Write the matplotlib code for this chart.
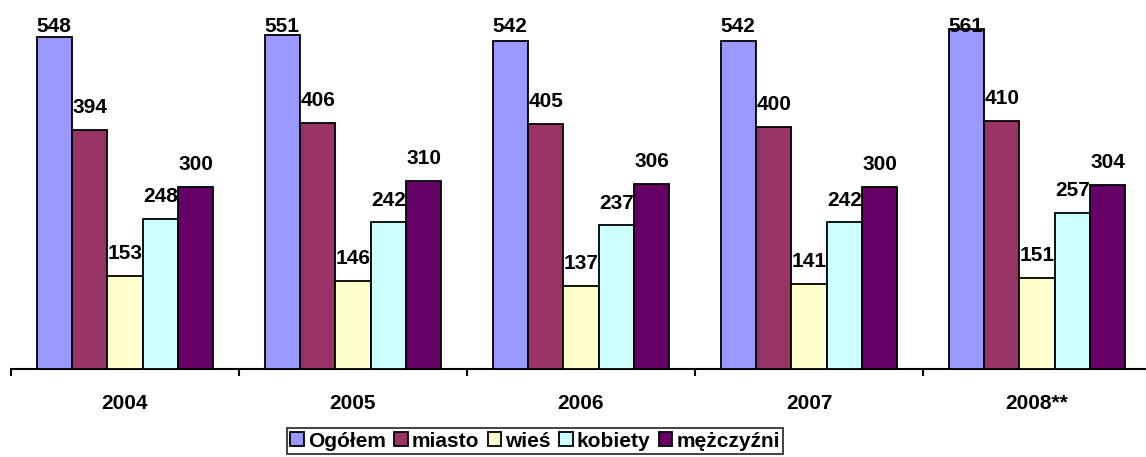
import numpy as np
import matplotlib
matplotlib.use('Agg')
import matplotlib.pyplot as plt
from matplotlib.patches import Patch

# -- data ---------------------------------------------------------------------
years = ['2004', '2005', '2006', '2007', '2008**']
series_names = ['Ogółem', 'miasto', 'wieś', 'kobiety', 'mężczyźni']
ogolem = [548, 551, 542, 542, 561]
miasto = [394, 406, 405, 400, 410]
wies = [153, 146, 137, 141, 151]
kobiety = [248, 242, 237, 242, 257]
mezczyzni = [300, 310, 306, 300, 304]
# -----------------------------------------------------------------------------

COLORS = ['#9999FF', '#993366', '#FFFFCC', '#CCFFFF', '#660066']
FONT = 'Liberation Sans'
FS = 15

plt.rcParams['font.family'] = [FONT, 'DejaVu Sans']

fig = plt.figure(figsize=(11.46, 4.57), dpi=100)
ax = fig.add_axes([11 / 1146, 88 / 457, 1140 / 1146, 363.3 / 457])

x = np.arange(len(years))
bw = 0.155
values = [ogolem, miasto, wies, kobiety, mezczyzni]

for i, (vals, col) in enumerate(zip(values, COLORS)):
    xs = x + (i - 2) * bw
    ax.bar(xs, vals, width=bw, color=col, edgecolor='black', linewidth=1.3,
           zorder=3)
    for xi, v in zip(xs, vals):
        # labels sit above the bar, but are held inside the plot area
        ypos = min(v + 28, 556)
        ax.text(xi, ypos, str(v), ha='center', va='baseline',
                fontsize=FS, fontweight='bold', color='black', zorder=4)

ax.set_xlim(-0.5, len(years) - 0.5)
ax.set_ylim(0, 600)

for s in ['left', 'right', 'top']:
    ax.spines[s].set_visible(False)
ax.spines['bottom'].set_linewidth(1.5)
ax.set_yticks([])

ax.set_xticks(np.arange(len(years) + 1) - 0.5)
ax.set_xticklabels([])
ax.tick_params(axis='x', which='major', direction='out', length=5, width=1.5)
ax.set_xticks(x, minor=True)
ax.set_xticklabels(years, minor=True, fontsize=FS, fontweight='bold')
ax.tick_params(axis='x', which='minor', length=0, pad=18)

handles = [Patch(facecolor=c, edgecolor='black', linewidth=1.3) for c in COLORS]
leg = fig.legend(handles, series_names, loc='center',
                 bbox_to_anchor=(0.467, 0.035), ncol=5, frameon=True,
                 fancybox=False, handlelength=0.65, handleheight=0.65,
                 handletextpad=0.2, columnspacing=0.4, borderpad=0.15,
                 borderaxespad=0,
                 prop={'family': FONT, 'weight': 'bold', 'size': FS})
leg.get_frame().set_edgecolor('black')
leg.get_frame().set_linewidth(1.3)

fig.savefig('out.png', dpi=100)
